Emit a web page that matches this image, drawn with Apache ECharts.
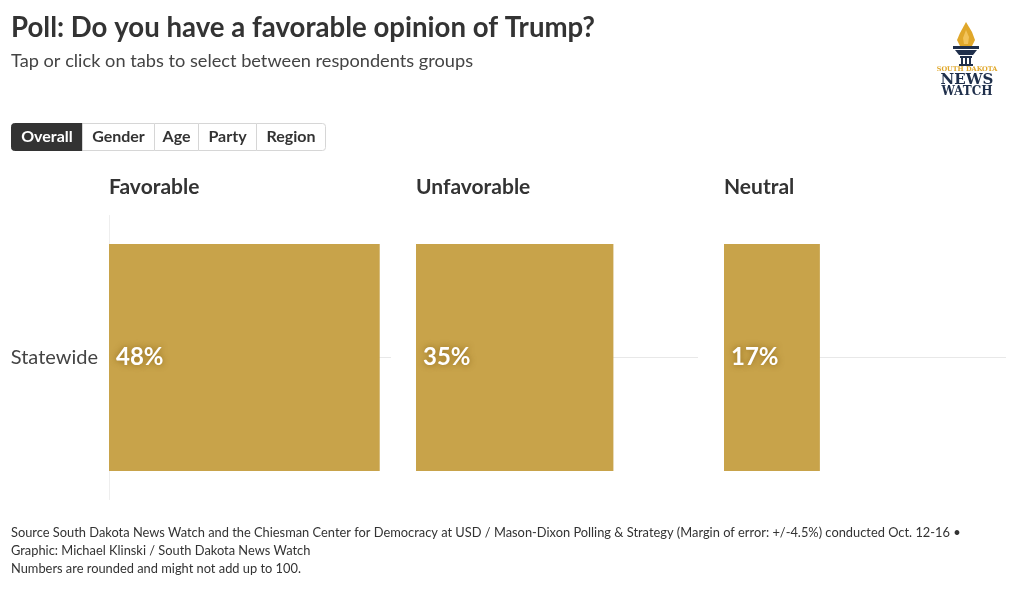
<!DOCTYPE html>
<html>
<head>
<meta charset="utf-8">
<script src="https://cdn.jsdelivr.net/npm/echarts@6/dist/echarts.min.js"></script>
<style>
html,body{margin:0;padding:0;background:#fff;}
#chart{width:1020px;height:589px;}
</style>
</head>
<body>
<div id="chart"></div>
<script>
const categories = ['Statewide'];
const panels = ['Favorable', 'Unfavorable', 'Neutral'];
const favorable = [48];
const unfavorable = [35];
const neutral = [17];
const tabs = ['Overall', 'Gender', 'Age', 'Party', 'Region'];
const xMax = 50;

const FONT = 'Lato, "Open Sans", sans-serif';
const BAR = '#c8a34a';
const seriesValues = [favorable, unfavorable, neutral];
const gridLefts = [109, 416, 724];
const gridW = 282;

const grids = gridLefts.map(l => ({ left: l, width: gridW, top: 215.5, height: 284, containLabel: false }));
const xAxes = gridLefts.map((_, i) => ({
  gridIndex: i, type: 'value', min: 0, max: xMax, show: false
}));
const yAxes = gridLefts.map((_, i) => ({
  gridIndex: i, type: 'category', data: categories, inverse: true,
  axisLine: { show: i === 0, lineStyle: { color: '#eeeeee', width: 1 } },
  axisTick: { show: false },
  axisLabel: { show: i === 0, color: '#444', fontSize: 20, fontFamily: FONT, margin: 11 },
  splitLine: { show: false }
}));
const series = seriesValues.map((vals, i) => ({
  type: 'bar', xAxisIndex: i, yAxisIndex: i, data: vals,
  barCategoryGap: '20%',
  itemStyle: { color: BAR },
  label: {
    show: true, position: 'insideLeft', distance: 7,
    formatter: p => p.value + '%',
    color: '#fff', fontSize: 24, fontWeight: 'bold', fontFamily: FONT,
    textShadowColor: 'rgba(130,95,20,0.85)', textShadowBlur: 6
  },
  markLine: {
    silent: true, z: 1, symbol: 'none',
    label: { show: false },
    lineStyle: { color: '#e8e8e8', width: 1, type: 'solid' },
    data: [{ yAxis: categories[0] }]
  }
}));

// tab buttons
const tabWidths = [71, 72, 44, 58, 69];
const graphics = [];
let tx = 11;
tabs.forEach((t, i) => {
  const w = tabWidths[i];
  const active = i === 0;
  graphics.push({
    type: 'rect', x: tx + 0.5, y: 123.5, silent: true,
    shape: { width: w, height: 27, r: active ? [3, 0, 0, 3] : (i === tabs.length - 1 ? [0, 3, 3, 0] : 0) },
    style: { fill: active ? '#333333' : '#ffffff', stroke: active ? '#333333' : '#d6d6d6', lineWidth: 1 }
  });
  graphics.push({
    type: 'text', x: tx + w / 2 + 0.5, y: 137, silent: true, z: 10,
    style: {
      text: t, fill: active ? '#ffffff' : '#333333', font: 'bold 16px ' + FONT,
      textAlign: 'center', textVerticalAlign: 'middle'
    }
  });
  tx += w;
});

// logo
const NAVY = '#1f2f4b', GOLD = '#e0a72a';
graphics.push(
  { type: 'polygon', silent: true, shape: { points: [[966,22],[972,32],[975,40],[972,46],[960,46],[957,40],[960,33]] }, style: { fill: GOLD } },
  { type: 'polygon', silent: true, shape: { points: [[966,30],[969,37],[968,44],[964,44],[963,38]] }, style: { fill: '#f2c35a' } },
  { type: 'rect', silent: true, shape: { x: 953, y: 46, width: 26, height: 3 }, style: { fill: NAVY } },
  { type: 'polygon', silent: true, shape: { points: [[955,50],[977,50],[973,55],[959,55]] }, style: { fill: NAVY } },
  { type: 'rect', silent: true, shape: { x: 960, y: 56, width: 12, height: 2 }, style: { fill: NAVY } },
  { type: 'rect', silent: true, shape: { x: 961, y: 58, width: 2, height: 6 }, style: { fill: NAVY } },
  { type: 'rect', silent: true, shape: { x: 965, y: 58, width: 2, height: 6 }, style: { fill: NAVY } },
  { type: 'rect', silent: true, shape: { x: 969, y: 58, width: 2, height: 6 }, style: { fill: NAVY } },
  { type: 'rect', silent: true, shape: { x: 959, y: 64, width: 14, height: 2 }, style: { fill: NAVY } },
  { type: 'text', silent: true, x: 967, y: 69.5, style: { text: 'SOUTH DAKOTA', fill: GOLD, font: 'bold 6.5px "DejaVu Serif", serif', textAlign: 'center', textVerticalAlign: 'middle' } },
  { type: 'text', silent: true, x: 967, y: 80, style: { text: 'NEWS', fill: NAVY, font: 'bold 15px "DejaVu Serif", serif', textAlign: 'center', textVerticalAlign: 'middle' } },
  { type: 'text', silent: true, x: 967, y: 92, style: { text: 'WATCH', fill: NAVY, font: 'bold 12px "DejaVu Serif", serif', textAlign: 'center', textVerticalAlign: 'middle' } }
);

// footer
const footer = [
  'Source South Dakota News Watch and the Chiesman Center for Democracy at USD / Mason-Dixon Polling & Strategy (Margin of error: +/-4.5%) conducted Oct. 12-16 •',
  'Graphic: Michael Klinski / South Dakota News Watch',
  'Numbers are rounded and might not add up to 100.'
];
footer.forEach((f, i) => graphics.push({
  type: 'text', silent: true, x: 11, y: 533 + i * 18,
  style: { text: f, fill: '#333', font: '12.85px ' + FONT, textVerticalAlign: 'middle' }
}));

const titles = [
  { text: 'Poll: Do you have a favorable opinion of Trump?', left: 11, top: 14, padding: 0,
    textStyle: { fontSize: 27.6, fontWeight: 'bold', color: '#333', fontFamily: FONT } },
  { text: 'Tap or click on tabs to select between respondents groups', left: 11, top: 52, padding: 0,
    textStyle: { fontSize: 18.2, fontWeight: 'normal', color: '#444', fontFamily: FONT } }
].concat(panels.map((p, i) => ({
  text: p, left: gridLefts[i], top: 177, padding: 0,
  textStyle: { fontSize: 21, fontWeight: 'bold', color: '#333', fontFamily: FONT }
})));

const chart = echarts.init(document.getElementById('chart'), null, { renderer: 'canvas' });
chart.setOption({
  backgroundColor: '#ffffff',
  animation: false,
  title: titles,
  grid: grids,
  xAxis: xAxes,
  yAxis: yAxes,
  series: series,
  graphic: graphics
});
</script>
</body>
</html>
